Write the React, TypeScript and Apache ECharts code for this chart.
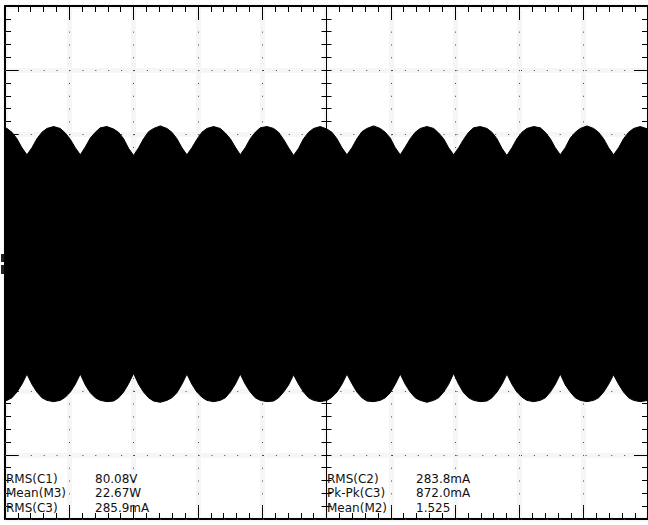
import React, { useEffect, useRef } from "react";
import * as echarts from "echarts";

// Time axis in ms (10 ms/div, 10 divisions), vertical in divisions (8 divisions)
const xTicksMs = { min: -50, max: 50, step: 10 };
const yTicksDiv = { min: -4, max: 4, step: 1 };

// Envelope of the dense waveform (time in ms)
const timeMs = [
  -50,
  -49.69, -48.92, -48.14, -47.37, -46.59, -45.81, -45.04, -44.26, -43.49, -42.44,
  -41.39, -40.62, -39.84, -39.07, -38.29, -37.51, -36.74, -35.96, -35.19, -34.14,
  -33.1, -32.33, -31.55, -30.78, -30.0, -29.22, -28.45, -27.67, -26.9, -25.85,
  -24.81, -24.04, -23.26, -22.49, -21.71, -20.93, -20.16, -19.38, -18.61, -17.56,
  -16.51, -15.74, -14.96, -14.19, -13.41, -12.63, -11.86, -11.08, -10.31, -9.26,
  -8.22, -7.45, -6.67, -5.9, -5.12, -4.34, -3.57, -2.79, -2.02, -0.97,
  0.08, 0.85, 1.63, 2.4, 3.18, 3.96, 4.73, 5.51, 6.28, 7.33,
  8.37, 9.14, 9.92, 10.69, 11.47, 12.25, 13.02, 13.8, 14.57, 15.62,
  16.67, 17.44, 18.22, 18.99, 19.77, 20.55, 21.32, 22.1, 22.87, 23.92,
  24.96, 25.73, 26.51, 27.28, 28.06, 28.84, 29.61, 30.39, 31.16, 32.21,
  33.26, 34.03, 34.81, 35.58, 36.36, 37.14, 37.91, 38.69, 39.46, 40.51,
  41.55, 42.32, 43.1, 43.87, 44.65, 45.43, 46.2, 46.98, 47.75, 48.8,
  50,
];

const upperDiv = [
  2.1,
  2.09, 2.03, 1.93, 1.79, 1.68, 1.79, 1.93, 2.03, 2.09, 2.12,
  2.09, 2.02, 1.92, 1.79, 1.68, 1.8, 1.94, 2.03, 2.1, 2.12,
  2.08, 2.03, 1.93, 1.78, 1.67, 1.79, 1.93, 2.04, 2.09, 2.13,
  2.09, 2.03, 1.93, 1.79, 1.68, 1.79, 1.92, 2.03, 2.09, 2.12,
  2.09, 2.02, 1.93, 1.8, 1.68, 1.79, 1.93, 2.03, 2.1, 2.12,
  2.09, 2.03, 1.92, 1.79, 1.67, 1.78, 1.93, 2.03, 2.09, 2.12,
  2.08, 2.03, 1.93, 1.79, 1.68, 1.79, 1.93, 2.04, 2.09, 2.13,
  2.09, 2.03, 1.94, 1.79, 1.68, 1.8, 1.93, 2.03, 2.09, 2.12,
  2.09, 2.02, 1.93, 1.79, 1.68, 1.79, 1.92, 2.03, 2.1, 2.12,
  2.09, 2.03, 1.93, 1.78, 1.67, 1.79, 1.93, 2.03, 2.09, 2.12,
  2.1, 2.03, 1.93, 1.79, 1.68, 1.79, 1.94, 2.03, 2.09, 2.13,
  2.09, 2.03, 1.93, 1.79, 1.68, 1.79, 1.93, 2.03, 2.09, 2.12,
  2.08,
];

const lowerDiv = [
  -2.16,
  -2.15, -2.11, -2.02, -1.9, -1.74, -1.9, -2.02, -2.11, -2.15, -2.17,
  -2.15, -2.1, -2.02, -1.9, -1.74, -1.91, -2.03, -2.11, -2.15, -2.17,
  -2.16, -2.11, -2.02, -1.89, -1.73, -1.9, -2.02, -2.11, -2.16, -2.18,
  -2.15, -2.11, -2.03, -1.9, -1.74, -1.9, -2.02, -2.1, -2.15, -2.17,
  -2.15, -2.11, -2.02, -1.9, -1.74, -1.9, -2.02, -2.11, -2.15, -2.17,
  -2.16, -2.11, -2.02, -1.91, -1.75, -1.9, -2.02, -2.11, -2.15, -2.17,
  -2.15, -2.1, -2.02, -1.9, -1.74, -1.89, -2.02, -2.11, -2.16, -2.17,
  -2.15, -2.11, -2.03, -1.9, -1.74, -1.9, -2.02, -2.11, -2.15, -2.18,
  -2.15, -2.11, -2.02, -1.9, -1.73, -1.9, -2.03, -2.11, -2.15, -2.17,
  -2.16, -2.11, -2.02, -1.9, -1.74, -1.9, -2.02, -2.1, -2.15, -2.17,
  -2.15, -2.11, -2.02, -1.9, -1.74, -1.91, -2.02, -2.11, -2.15, -2.17,
  -2.15, -2.11, -2.02, -1.9, -1.75, -1.9, -2.02, -2.11, -2.15, -2.17,
  -2.15,
];

// Measurement readouts
const measLeftLabels = ["RMS(C1)", "Mean(M3)", "RMS(C3)"];
const measLeftValues = ["80.08V", "22.67W", "285.9mA"];
const measRightLabels = ["RMS(C2)", "Pk-Pk(C3)", "Mean(M2)"];
const measRightValues = ["283.8mA", "872.0mA", "1.525"];

export default function App() {
  const ref = useRef<HTMLDivElement>(null);

  useEffect(() => {
    if (!ref.current) return;
    const chart = echarts.init(ref.current, null, { renderer: "svg" });

    const GRID = { left: 5, top: 6, width: 645, height: 513 };
    const black = "#000";

    const xBase = {
      type: "value" as const,
      min: xTicksMs.min,
      max: xTicksMs.max,
      interval: xTicksMs.step,
      axisLabel: { show: false },
      splitLine: { show: false },
    };
    const yBase = {
      type: "value" as const,
      min: yTicksDiv.min,
      max: yTicksDiv.max,
      interval: yTicksDiv.step,
      axisLabel: { show: false },
      splitLine: { show: false },
    };

    const borderLine = { show: true, onZero: false, lineStyle: { color: black, width: 2 } };
    const borderTick = { show: true, inside: true, length: 14, lineStyle: { color: black, width: 1 } };
    const borderMinor = { show: true, splitNumber: 5, length: 6, lineStyle: { color: black, width: 1 } };
    const centerLine = { show: true, onZero: true, lineStyle: { color: black, width: 1 } };
    const centerTick = (inside: boolean) => ({ show: true, inside, length: 5, lineStyle: { color: black, width: 1 } });
    const centerMinor = { show: true, splitNumber: 5, length: 5, lineStyle: { color: black, width: 1 } };

    const vDot = 513 / 40;
    const hDot = 645 / 50;

    const textStyle = { fontFamily: "DejaVu Sans", fontSize: 12, fill: "#111" };
    const rowY = [478.5, 493.3, 507.5];
    const graphics: any[] = [];
    measLeftLabels.forEach((t, i) => {
      graphics.push({ type: "text", z: 100, x: 6, y: rowY[i], style: { ...textStyle, text: t, verticalAlign: "middle" } });
      graphics.push({ type: "text", z: 100, x: 95, y: rowY[i], style: { ...textStyle, text: measLeftValues[i], verticalAlign: "middle" } });
    });
    measRightLabels.forEach((t, i) => {
      graphics.push({ type: "text", z: 100, x: 327, y: rowY[i], style: { ...textStyle, text: t, verticalAlign: "middle" } });
      graphics.push({ type: "text", z: 100, x: 416, y: rowY[i], style: { ...textStyle, text: measRightValues[i], verticalAlign: "middle" } });
    });
    // channel ground marker on the left edge
    graphics.push({ type: "rect", z: 100, shape: { x: 1, y: 254, width: 3, height: 8 }, style: { fill: "#222" } });
    graphics.push({ type: "rect", z: 100, shape: { x: 1, y: 265, width: 3, height: 9 }, style: { fill: "#222" } });

    const envData = timeMs.map((t, i) => [t, upperDiv[i], lowerDiv[i]]);

    chart.setOption({
      animation: false,
      backgroundColor: "#fff",
      grid: GRID,
      xAxis: [
        {
          ...xBase,
          position: "bottom",
          z: 0,
          axisLine: borderLine,
          axisTick: borderTick,
          minorTick: borderMinor,
          splitLine: { show: true, lineStyle: { color: "#f6f6f6", width: 5 } },
        },
        {
          ...xBase,
          position: "top",
          z: 1,
          axisLine: borderLine,
          axisTick: borderTick,
          minorTick: borderMinor,
          splitLine: { show: true, lineStyle: { color: "#444", width: 1, type: [1, vDot - 1] } },
        },
        { ...xBase, position: "bottom", z: 1, axisLine: centerLine, axisTick: centerTick(true), minorTick: centerMinor },
        { ...xBase, position: "bottom", z: 1, axisLine: centerLine, axisTick: centerTick(false), minorTick: centerMinor },
      ],
      yAxis: [
        {
          ...yBase,
          position: "left",
          z: 0,
          axisLine: borderLine,
          axisTick: borderTick,
          minorTick: borderMinor,
          splitLine: { show: true, lineStyle: { color: "#f6f6f6", width: 5 } },
        },
        {
          ...yBase,
          position: "right",
          z: 1,
          axisLine: borderLine,
          axisTick: borderTick,
          minorTick: borderMinor,
          splitLine: { show: true, lineStyle: { color: "#444", width: 1, type: [1, hDot - 1] } },
        },
        { ...yBase, position: "left", z: 1, axisLine: centerLine, axisTick: centerTick(true), minorTick: centerMinor },
        { ...yBase, position: "left", z: 1, axisLine: centerLine, axisTick: centerTick(false), minorTick: centerMinor },
      ],
      series: [
        {
          type: "custom",
          name: "waveform",
          coordinateSystem: "cartesian2d",
          xAxisIndex: 0,
          yAxisIndex: 0,
          z: 2,
          silent: true,
          dimensions: ["t", "up", "low"],
          encode: { x: 0, y: [1, 2] },
          data: envData,
          renderItem: (params: any, api: any) => {
            if (params.dataIndex !== 0) return null;
            const pts: number[][] = [];
            for (let i = 0; i < envData.length; i++) pts.push(api.coord([envData[i][0], envData[i][1]]));
            for (let i = envData.length - 1; i >= 0; i--) pts.push(api.coord([envData[i][0], envData[i][2]]));
            return {
              type: "polygon",
              shape: { points: pts },
              style: { fill: black, stroke: black, lineWidth: 1 },
            };
          },
        },
      ],
      graphic: graphics,
    });

    return () => chart.dispose();
  }, []);

  return (
    <div
      ref={ref}
      style={{ position: "absolute", left: 0, top: 0, width: 648, height: 525, background: "#fff" }}
    />
  );
}
